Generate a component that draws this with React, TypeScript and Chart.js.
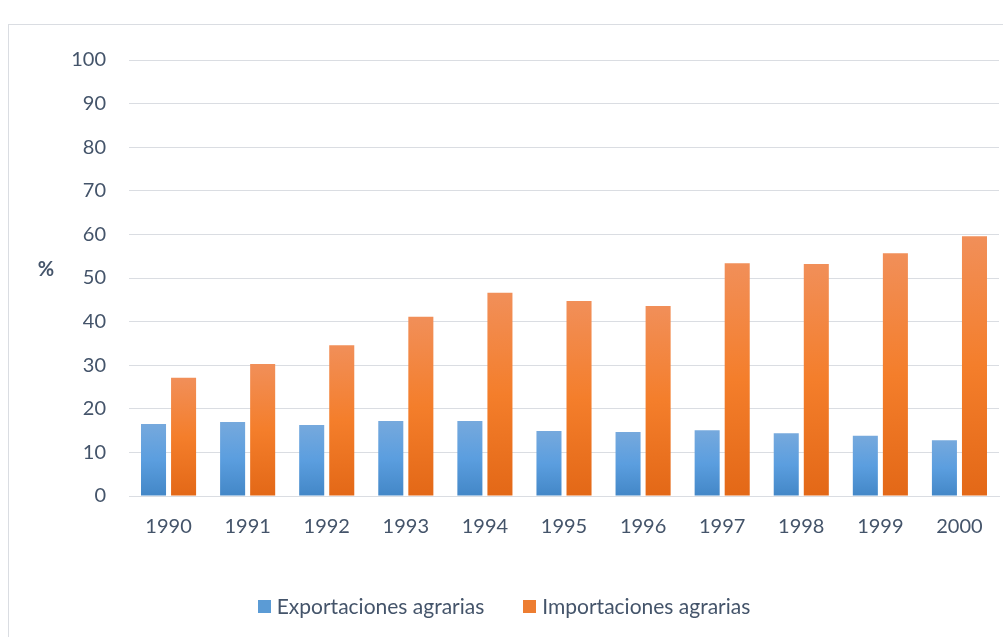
import React, { useEffect, useRef } from "react";
import { Chart, registerables } from "chart.js";

Chart.register(...registerables);

const categories = ["1990", "1991", "1992", "1993", "1994", "1995", "1996", "1997", "1998", "1999", "2000"];
const exportaciones = [16.5, 17.0, 16.3, 17.2, 17.2, 14.9, 14.7, 15.1, 14.4, 13.8, 12.8];
const importaciones = [27.1, 30.3, 34.6, 41.1, 46.6, 44.7, 43.6, 53.4, 53.2, 55.7, 59.6];
const yTicks = [0, 10, 20, 30, 40, 50, 60, 70, 80, 90, 100];
const legendColors = ["#5B9BD5", "#ED7D31"];

const TEXT = "#44546A";
const FONT = "Lato, 'Open Sans', sans-serif";

function barGradient(stops: string[]) {
  return (ctx: any) => {
    const chart = ctx.chart;
    const y = chart.scales?.y;
    if (!y || ctx.type !== "data" || ctx.raw == null) return stops[1];
    const top = y.getPixelForValue(ctx.raw);
    const bottom = y.getPixelForValue(0);
    if (!isFinite(top) || !isFinite(bottom) || top === bottom) return stops[1];
    const g = chart.ctx.createLinearGradient(0, top, 0, bottom);
    g.addColorStop(0, stops[0]);
    g.addColorStop(0.5, stops[1]);
    g.addColorStop(1, stops[2]);
    return g;
  };
}

const extras = {
  id: "extras",
  afterDraw(chart: any) {
    const { ctx, chartArea } = chart;
    ctx.save();
    // y-axis unit label
    ctx.font = `bold 20px ${FONT}`;
    ctx.fillStyle = TEXT;
    ctx.textAlign = "center";
    ctx.textBaseline = "middle";
    ctx.fillText("%", chartArea.left - 83, (chartArea.top + chartArea.bottom) / 2 - 8);

    // legend
    ctx.font = `21px ${FONT}`;
    ctx.textAlign = "left";
    const box = 13;
    const gapText = 6;
    const gapItem = 39;
    const labels = chart.data.datasets.map((d: any) => d.label as string);
    const widths = labels.map((t: string) => box + gapText + ctx.measureText(t).width);
    const total = widths.reduce((a: number, b: number) => a + b, 0) + gapItem * (labels.length - 1);
    let x = chart.width / 2 - 2 - total / 2;
    const cy = chartArea.bottom + 110;
    labels.forEach((t: string, i: number) => {
      ctx.fillStyle = legendColors[i];
      ctx.fillRect(Math.round(x), Math.round(cy - box / 2), box, box);
      ctx.fillStyle = TEXT;
      ctx.fillText(t, x + box + gapText, cy + 1);
      x += widths[i] + gapItem;
    });
    ctx.restore();
  },
};

export default function App() {
  const ref = useRef<HTMLCanvasElement>(null);
  useEffect(() => {
    if (!ref.current) return;
    const chart = new Chart(ref.current, {
      type: "bar",
      data: {
        labels: categories,
        datasets: [
          {
            label: "Exportaciones agrarias",
            data: exportaciones,
            backgroundColor: barGradient(["#76A9DD", "#5B9EDF", "#4387C7"]),
            categoryPercentage: 0.76,
            barPercentage: 0.833,
          },
          {
            label: "Importaciones agrarias",
            data: importaciones,
            backgroundColor: barGradient(["#F18F59", "#F47E2B", "#E36817"]),
            categoryPercentage: 0.76,
            barPercentage: 0.833,
          },
        ],
      },
      options: {
        animation: false,
        responsive: false,
        maintainAspectRatio: false,
        layout: { padding: { left: 0, right: 4, top: 35, bottom: 51 } },
        scales: {
          x: {
            grid: { display: false, drawTicks: false },
            border: { display: true, color: "#DADDE2", width: 1 },
            ticks: { color: TEXT, font: { family: FONT, size: 20 }, padding: 19 },
            afterFit: (s: any) => {
              s.height = 90;
            },
          },
          y: {
            min: 0,
            max: 100,
            afterBuildTicks: (s: any) => {
              s.ticks = yTicks.map((v) => ({ value: v }));
            },
            grid: { color: "#DADDE2", lineWidth: 1, drawTicks: false },
            border: { display: false },
            ticks: { color: TEXT, font: { family: FONT, size: 20 }, padding: 23 },
            afterFit: (s: any) => {
              s.width = 120;
            },
          },
        },
        plugins: {
          legend: { display: false },
          tooltip: { enabled: false },
        },
      },
      plugins: [extras],
    });
    return () => chart.destroy();
  }, []);

  return (
    <div
      style={{
        position: "absolute",
        left: 8,
        top: 24,
        width: 994,
        height: 612,
        borderLeft: "1px solid #DADDE2",
        borderTop: "1px solid #DADDE2",
        background: "#fff",
      }}
    >
      <canvas ref={ref} width={994} height={612} style={{ display: "block" }} />
    </div>
  );
}
